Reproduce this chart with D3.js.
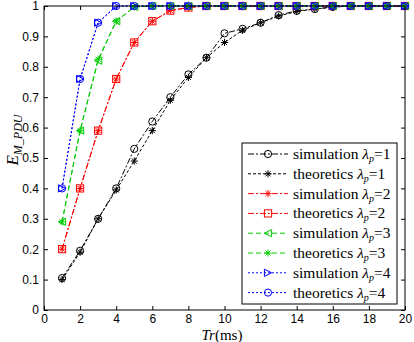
<!DOCTYPE html>
<html><head><meta charset="utf-8">
<script src="https://cdn.jsdelivr.net/npm/d3@7"></script>
<style>body{margin:0;background:#fff}svg{display:block}</style>
</head><body>
<svg id="c" width="414" height="342"></svg>
<script>
const xs = d3.range(1, 21);
const sim1 = [0.105,0.195,0.30,0.40,0.53,0.62,0.70,0.775,0.83,0.91,0.925,0.945,0.97,0.984,0.99,0.997,1,1,1,1];
const th1  = [0.10,0.19,0.30,0.395,0.49,0.59,0.69,0.765,0.83,0.88,0.92,0.945,0.967,0.982,0.99,0.996,1,1,1,1];
const sim2 = [0.20,0.40,0.59,0.76,0.88,0.95,0.985,0.995,1,1,1,1,1,1,1,1,1,1,1,1];
const th2  = [0.20,0.40,0.59,0.76,0.88,0.95,0.985,0.995,1,1,1,1,1,1,1,1,1,1,1,1];
const sim3 = [0.29,0.59,0.82,0.95,0.997,1,1,1,1,1,1,1,1,1,1,1,1,1,1,1];
const th3  = [0.29,0.59,0.825,0.95,0.997,1,1,1,1,1,1,1,1,1,1,1,1,1,1,1];
const sim4 = [0.40,0.76,0.945,1,1,1,1,1,1,1,1,1,1,1,1,1,1,1,1,1];
const th4  = [0.40,0.76,0.945,1,1,1,1,1,1,1,1,1,1,1,1,1,1,1,1,1];
const xTicks = d3.range(0, 21, 2);
const yTicks = d3.range(0, 11).map(d => d / 10);
const names = ["simulation","theoretics","simulation","theoretics","simulation","theoretics","simulation","theoretics"];
const lambdas = [1,1,2,2,3,3,4,4];

const series = [
  {v: sim1, color: "#000", dash: "6,2,2,2", marker: "circle"},
  {v: th1, color: "#000", dash: "3,2", marker: "star"},
  {v: sim2, color: "#f00", dash: "6,2,2,2", marker: "star"},
  {v: th2, color: "#f00", dash: "6,2,2,2", marker: "square"},
  {v: sim3, color: "#0c0", dash: "5,3", marker: "tleft"},
  {v: th3, color: "#0c0", dash: "5,3", marker: "star"},
  {v: sim4, color: "#00f", dash: "2,2", marker: "tright"},
  {v: th4, color: "#00f", dash: "2,2", marker: "circle"}
];

const svg = d3.select("#c");
const L = 44, R = 405, T = 6, B = 310;
const x = d3.scaleLinear().domain([0, 20]).range([L, R]);
const y = d3.scaleLinear().domain([0, 1]).range([B, T]);

function drawMarker(g, type, cx, cy, color) {
  const s = 3.6;
  if (type === "circle") {
    g.append("circle").attr("cx", cx).attr("cy", cy).attr("r", s).attr("fill", "none").attr("stroke", color).attr("stroke-width", 1);
  } else if (type === "square") {
    g.append("rect").attr("x", cx - s).attr("y", cy - s).attr("width", 2 * s).attr("height", 2 * s).attr("fill", "none").attr("stroke", color).attr("stroke-width", 1);
  } else if (type === "star") {
    const p = `M${cx - s},${cy}L${cx + s},${cy}M${cx},${cy - s}L${cx},${cy + s}M${cx - s * 0.7},${cy - s * 0.7}L${cx + s * 0.7},${cy + s * 0.7}M${cx - s * 0.7},${cy + s * 0.7}L${cx + s * 0.7},${cy - s * 0.7}`;
    g.append("path").attr("d", p).attr("stroke", color).attr("stroke-width", 1).attr("fill", "none");
  } else if (type === "tleft") {
    g.append("path").attr("d", `M${cx - s},${cy}L${cx + s},${cy - s}L${cx + s},${cy + s}Z`).attr("fill", "none").attr("stroke", color).attr("stroke-width", 1);
  } else if (type === "tright") {
    g.append("path").attr("d", `M${cx + s},${cy}L${cx - s},${cy - s}L${cx - s},${cy + s}Z`).attr("fill", "none").attr("stroke", color).attr("stroke-width", 1);
  }
}

// ticks (inward, both sides)
const axG = svg.append("g");
const xAxis = d3.axisBottom(x).tickValues(xTicks).tickSize(-4).tickPadding(4).tickFormat(d3.format("d"));
const yAxis = d3.axisLeft(y).tickValues(yTicks).tickSize(-4).tickPadding(5).tickFormat(d => d === 0 ? "0" : d === 1 ? "1" : d3.format(".1f")(d));
axG.append("g").attr("transform", `translate(0,${B})`).call(xAxis);
axG.append("g").attr("transform", `translate(${L},0)`).call(yAxis);
axG.append("g").attr("transform", `translate(0,${T})`).call(d3.axisTop(x).tickValues(xTicks).tickSize(-4).tickFormat(""));
axG.append("g").attr("transform", `translate(${R},0)`).call(d3.axisRight(y).tickValues(yTicks).tickSize(-4).tickFormat(""));
axG.selectAll(".domain").remove();
axG.selectAll("line").attr("stroke", "#000");
axG.selectAll("text").attr("font-family", "Liberation Sans, Arial, sans-serif").attr("font-size", 12).attr("fill", "#000");

// series
const line = d3.line().x((d, i) => x(xs[i])).y(d => y(d));
const plot = svg.append("g");
series.forEach(s => {
  plot.append("path").attr("d", line(s.v)).attr("fill", "none").attr("stroke", s.color).attr("stroke-width", 1).attr("stroke-dasharray", s.dash);
});
series.forEach(s => {
  const g = plot.append("g");
  s.v.forEach((v, i) => drawMarker(g, s.marker, x(xs[i]), y(v), s.color));
});

// box
svg.append("rect").attr("x", L).attr("y", T).attr("width", R - L).attr("height", B - T).attr("fill", "none").attr("stroke", "#000").attr("stroke-width", 1);

// legend
const lg = svg.append("g");
const lx = 242, ly = 143, lw = 155, lh = 161;
lg.append("rect").attr("x", lx).attr("y", ly).attr("width", lw).attr("height", lh).attr("fill", "#fff").attr("stroke", "#000").attr("stroke-width", 1);
series.forEach((s, i) => {
  const cy = ly + 11 + i * 19.8;
  lg.append("line").attr("x1", lx + 6).attr("x2", lx + 46).attr("y1", cy).attr("y2", cy).attr("stroke", s.color).attr("stroke-width", 1).attr("stroke-dasharray", s.dash);
  drawMarker(lg, s.marker, lx + 26, cy, s.color);
  const t = lg.append("text").attr("x", lx + 51).attr("y", cy + 5).attr("font-family", "Liberation Serif, Times New Roman, serif").attr("font-size", 15.5).attr("fill", "#000");
  t.append("tspan").text(names[i] + " ");
  t.append("tspan").attr("font-style", "italic").text("λ");
  t.append("tspan").attr("font-style", "italic").attr("font-size", 10).attr("dy", 3).text("p");
  t.append("tspan").attr("dy", -3).text("=" + lambdas[i]);
});

// axis labels
const xl = svg.append("text").attr("x", 222).attr("y", 340).attr("text-anchor", "middle").attr("font-family", "Liberation Serif, Times New Roman, serif").attr("font-size", 15);
xl.append("tspan").attr("font-style", "italic").text("Tr");
xl.append("tspan").text("(ms)");

const yl = svg.append("text").attr("transform", "translate(18,140) rotate(-90)").attr("text-anchor", "middle").attr("font-family", "Liberation Serif, Times New Roman, serif").attr("font-size", 17).attr("font-style", "italic");
yl.append("tspan").text("E");
yl.append("tspan").attr("font-size", 12).attr("dy", 4).text("M_PDU");
</script>
</body></html>
